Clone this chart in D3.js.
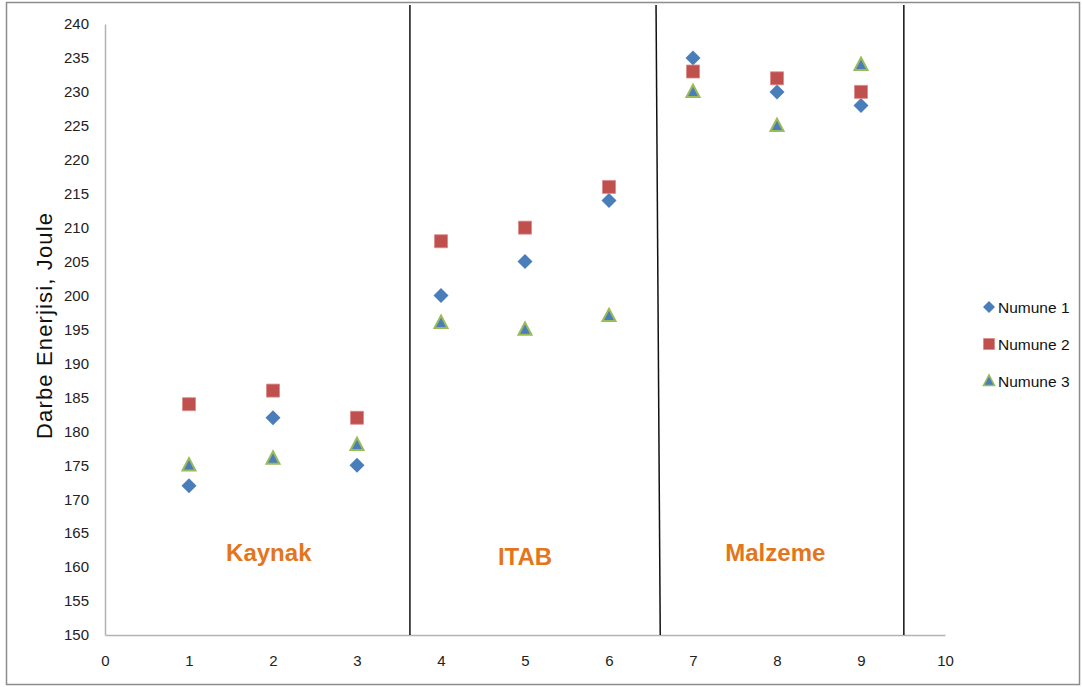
<!DOCTYPE html>
<html>
<head>
<meta charset="utf-8">
<script src="https://cdn.jsdelivr.net/npm/d3@7"></script>
<style>
  body { margin: 0; background: #fff; }
  svg text { font-family: "Liberation Sans Narrow", "Liberation Sans", sans-serif; }
</style>
</head>
<body>
<div id="chart"></div>
<script>
// Data
const xValues = [1, 2, 3, 4, 5, 6, 7, 8, 9];
const numune1 = [172, 182, 175, 200, 205, 214, 235, 230, 228];
const numune2 = [184, 186, 182, 208, 210, 216, 233, 232, 230];
const numune3 = [175, 176, 178, 196, 195, 197, 230, 225, 234];
const seriesNames = ['Numune 1', 'Numune 2', 'Numune 3'];
const xTicks = [0, 1, 2, 3, 4, 5, 6, 7, 8, 9, 10];
const yTicks = [150, 155, 160, 165, 170, 175, 180, 185, 190, 195, 200, 205, 210, 215, 220, 225, 230, 235, 240];
const groupNames = ['Kaynak', 'ITAB', 'Malzeme'];
const groupLabelX = [1.95, 5.0, 7.98];
// divider lines: [top x, bottom x]
const dividers = [[3.63, 3.63], [6.56, 6.61], [9.51, 9.51]];

const W = 1082, H = 687;
const margin = { top: 24, right: 137, bottom: 52, left: 105 };
const width = W - margin.left - margin.right;
const height = H - margin.top - margin.bottom;

const svg = d3.select('#chart')
    .append('svg')
    .attr('width', W)
    .attr('height', H);

// outer frame
svg.append('rect')
    .attr('x', 6.5).attr('y', 2.5)
    .attr('width', W - 9).attr('height', H - 5)
    .attr('fill', 'none')
    .attr('stroke', '#8c8c8c')
    .attr('stroke-width', 1.5);

const g = svg.append('g')
    .attr('transform', `translate(${margin.left},${margin.top})`);

const x = d3.scaleLinear().domain([0, 10]).range([0, width]);
const y = d3.scaleLinear().domain([150, 240]).range([height, 0]);

// axes
const yAxis = g.append('g')
    .call(d3.axisLeft(y).tickValues(yTicks).tickSize(0).tickPadding(16));
const xAxis = g.append('g')
    .attr('transform', `translate(0,${height})`)
    .call(d3.axisBottom(x).tickValues(xTicks).tickSize(0).tickPadding(20));
[xAxis, yAxis].forEach(a => {
    a.select('.domain').attr('stroke', '#b3b3b3').attr('stroke-width', 1.5);
    a.selectAll('text').attr('font-size', 15).attr('fill', '#222');
});

// section divider lines
g.selectAll('.divider')
    .data(dividers)
    .enter()
    .append('line')
    .attr('x1', d => x(d[0]))
    .attr('x2', d => x(d[1]))
    .attr('y1', -19)
    .attr('y2', height)
    .attr('stroke', '#111')
    .attr('stroke-width', 1.5);

// group labels
g.selectAll('.group-label')
    .data(groupNames)
    .enter()
    .append('text')
    .attr('x', (d, i) => x(groupLabelX[i]))
    .attr('y', (d, i) => y(i === 1 ? 160.3 : 160.9))
    .attr('text-anchor', 'middle')
    .attr('font-size', 24)
    .attr('font-weight', 'bold')
    .attr('fill', '#e3761c')
    .text(d => d);

// y title
svg.append('text')
    .attr('transform', 'translate(52,326) rotate(-90)')
    .attr('text-anchor', 'middle')
    .attr('font-size', 22)
    .attr('fill', '#111')
    .attr('textLength', 226)
    .attr('lengthAdjust', 'spacing')
    .style('font-family', '"Liberation Sans", sans-serif')
    .text('Darbe Enerjisi, Joule');

// markers
const diamond = s => `M0,${-s} L${s},0 L0,${s} L${-s},0 Z`;
const square = s => `M${-s},${-s} H${s} V${s} H${-s} Z`;
const triangle = s => `M0,${-s * 1.1} L${s},${s * 0.8} L${-s},${s * 0.8} Z`;

const styles = [
    { path: diamond(7.5), fill: '#4a7ebb', stroke: 'none', sw: 0 },
    { path: square(6.5), fill: '#c0504d', stroke: '#d98a88', sw: 0.8 },
    { path: triangle(6.5), fill: '#4a7ebb', stroke: '#9bbb59', sw: 2 }
];

[numune1, numune2, numune3].forEach((vals, si) => {
    g.selectAll('.s' + si)
        .data(vals)
        .enter()
        .append('path')
        .attr('d', styles[si].path)
        .attr('transform', (d, i) => `translate(${x(xValues[i])},${y(d)})`)
        .attr('fill', styles[si].fill)
        .attr('stroke', styles[si].stroke)
        .attr('stroke-width', styles[si].sw);
});

// legend
const legend = svg.append('g').attr('transform', 'translate(989,307)');
seriesNames.forEach((name, i) => {
    const row = legend.append('g').attr('transform', `translate(0,${i * 37})`);
    const st = styles[i];
    row.append('path')
        .attr('d', i === 0 ? diamond(6) : i === 1 ? square(5.5) : triangle(5.5))
        .attr('fill', st.fill)
        .attr('stroke', st.stroke)
        .attr('stroke-width', i === 2 ? 1.5 : st.sw);
    row.append('text')
        .attr('x', 9)
        .attr('y', 5.5)
        .attr('font-size', 15.5)
        .attr('fill', '#111')
        .text(name);
});
</script>
</body>
</html>
